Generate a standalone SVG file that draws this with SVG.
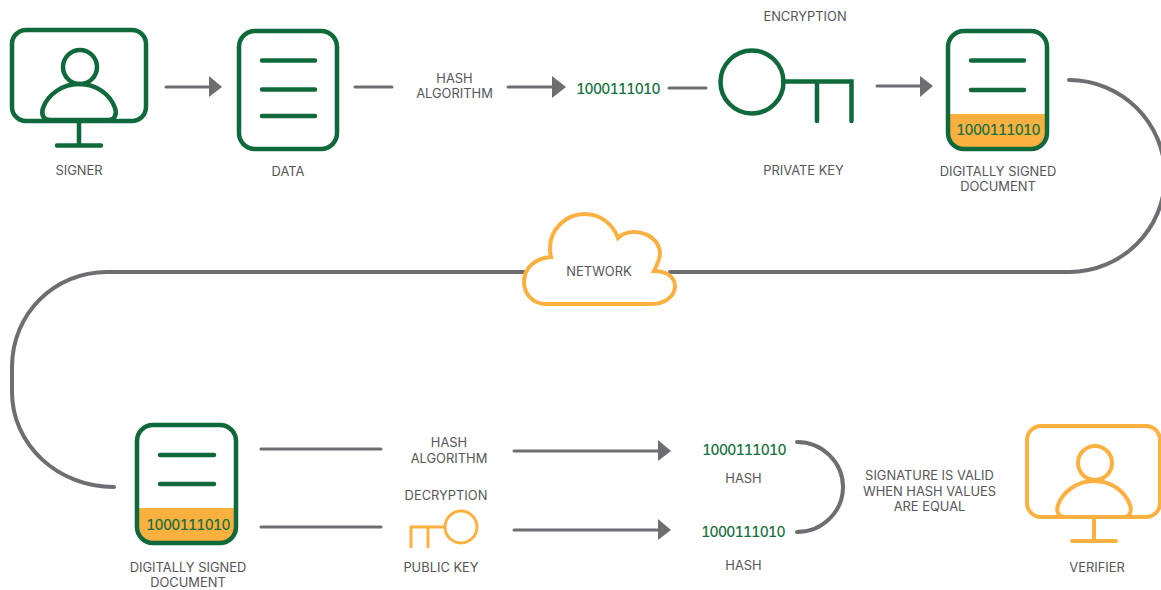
<svg xmlns="http://www.w3.org/2000/svg" width="1161" height="590" viewBox="0 0 1161 590">
<style>
text{font-family:Inter,"Liberation Sans",sans-serif;font-size:12.900px;fill:#555659;text-anchor:middle}
text.b{font-size:14px;font-weight:500;fill:#16703f;font-feature-settings:"tnum";letter-spacing:-.7px}
.g{fill:none;stroke:#10693b;stroke-width:4.5;stroke-linecap:round}
.o{fill:none;stroke:#fcb040;stroke-width:4;stroke-linecap:round}
.c{fill:none;stroke:#6d6e71;stroke-width:3;stroke-linecap:round}
.h{fill:#6d6e71}
</style>
<rect width="1161" height="590" fill="#fff"/>
<g id="connectors">
<path class="c" d="M166 87H212"/><polygon class="h" points="209,76 222,87 209,97"/>
<path class="c" d="M355 87H392"/>
<path class="c" d="M508 87H555"/><polygon class="h" points="552,76 566,87 552,98"/>
<path class="c" d="M669 88H706"/>
<path class="c" d="M877 86H922"/><polygon class="h" points="920,76 933,86 920,97"/>
<path class="c" style="stroke-width:4" d="M1069 80C1122 80 1165 123 1165 176C1165 229 1122 272 1069 272H670"/>
<path class="c" style="stroke-width:4" d="M525 272H107C54 272 12 314 12 367V392C12 445 58 487 114 487"/>
<path class="c" d="M261 449H381"/>
<path class="c" d="M261 527H381"/>
<path class="c" d="M514 451H660"/><polygon class="h" points="658,440 671,451 658,461"/>
<path class="c" d="M514 530H660"/><polygon class="h" points="658,519 671,530 658,540"/>
<path class="c" style="stroke-width:4" d="M797 442C822 442 843 462 843 487C843 512 822 532 797 532"/>
</g>
<g id="signer">
<rect class="g" x="12" y="30" width="134" height="91" rx="14"/>
<circle class="g" cx="80" cy="67" r="17"/>
<path class="g" d="M50 120C43 120 41 114 43 108C48 94 63 84 79 84C96 84 110 94 115 108C117 114 115 120 109 120Z" fill="#fff"/>
<path class="g" d="M79 122V145M57 145.500H101"/>
<text x="79" y="175">SIGNER</text>
</g>
<g id="data">
<rect class="g" x="239" y="31" width="98" height="118" rx="16"/>
<path class="g" d="M262 60.500H315M262 89.500H315M262 116H315"/>
<text x="288" y="176">DATA</text>
</g>
<g id="hash-algorithm-top">
<text x="454.500" y="82.500">HASH</text>
<text x="454.500" y="98">ALGORITHM</text>
</g>
<text class="b" x="618" y="93.500">1000111010</text>
<g id="private-key">
<circle class="g" cx="752" cy="82" r="31.500"/>
<path class="g" stroke-linecap="butt" d="M783 81.500H851.500V121M817 81.500V121"/>
<text x="805" y="21">ENCRYPTION</text>
<text x="803.500" y="175">PRIVATE KEY</text>
</g>
<g id="signed-doc-top">
<path fill="#fcb040" d="M948 114H1047V135Q1047 149 1033 149H962Q948 149 948 135Z"/>
<rect class="g" x="948" y="31" width="99" height="118" rx="16"/>
<path class="g" d="M971 60.500H1024M971 90H1024"/>
<text class="b" x="998" y="135">1000111010</text>
<text x="998" y="176">DIGITALLY SIGNED</text>
<text x="998" y="191">DOCUMENT</text>
</g>
<g id="network">
<path d="M546 304H652C665 304 675 296 675 286C675 277 666 271 654 271C658 263 660 258 660 254C660 241 648 232 634 232C628 232 622 234 618 238C613 224 600 214 585 214C565 214 550 230 550 248C550 251 550 254 551 257C535 258 524 268 524 282C524 295 534 304 546 304Z" fill="#fff" stroke="#fcb040" stroke-width="4" stroke-linejoin="miter"/>
<text x="599" y="276">NETWORK</text>
</g>
<g id="signed-doc-bottom">
<path fill="#fcb040" d="M137 508H236V529Q236 543 222 543H151Q137 543 137 529Z"/>
<rect class="g" x="137" y="425" width="99" height="118" rx="16"/>
<path class="g" d="M160 455H214M160 484H214"/>
<text class="b" x="188" y="530">1000111010</text>
<text x="188" y="571.500">DIGITALLY SIGNED</text>
<text x="188" y="587">DOCUMENT</text>
</g>
<g id="hash-algorithm-bottom">
<text x="449" y="447">HASH</text>
<text x="449" y="462.500">ALGORITHM</text>
</g>
<g id="public-key">
<text x="446" y="500">DECRYPTION</text>
<circle cx="461" cy="527" r="16" fill="none" stroke="#fcb040" stroke-width="3"/>
<path d="M445 527H411V548M428 527V548" fill="none" stroke="#fcb040" stroke-width="3"/>
<text x="441" y="571.500">PUBLIC KEY</text>
</g>
<g id="hash-one">
<text class="b" x="744" y="455">1000111010</text>
<text x="743.500" y="482.500">HASH</text>
</g>
<g id="hash-two">
<text class="b" x="743" y="537">1000111010</text>
<text x="743.500" y="570">HASH</text>
</g>
<g id="validity-note">
<text x="929.500" y="480">SIGNATURE IS VALID</text>
<text x="929.500" y="496">WHEN HASH VALUES</text>
<text x="929.500" y="511">ARE EQUAL</text>
</g>
<g id="verifier">
<rect class="o" x="1027" y="426" width="133" height="91" rx="14"/>
<circle class="o" cx="1095" cy="463" r="17"/>
<path class="o" d="M1065 517C1058 517 1056 511 1058 505C1063 491 1078 481 1094 481C1111 481 1125 491 1130 505C1132 511 1130 517 1124 517Z"/>
<path class="o" d="M1094 519V541M1072 541H1116"/>
<text x="1097" y="571.500">VERIFIER</text>
</g>
</svg>
